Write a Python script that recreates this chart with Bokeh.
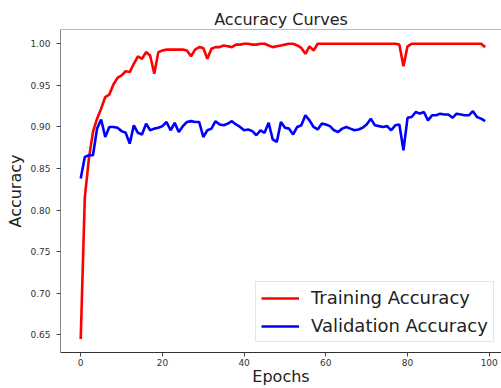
from bokeh.plotting import figure
from bokeh.models import Range1d, FixedTicker, NumeralTickFormatter, LinearAxis, Legend, LegendItem, ColumnDataSource
from bokeh.embed import file_html
from bokeh.resources import INLINE

epochs = list(range(100))

train_acc = [
    0.645, 0.815, 0.862, 0.894, 0.910, 0.922, 0.936, 0.939, 0.951, 0.959,
    0.962, 0.967, 0.966, 0.976, 0.985, 0.982, 0.990, 0.986, 0.964, 0.990,
    0.992, 0.993, 0.993, 0.993, 0.993, 0.993, 0.992, 0.985, 0.993, 0.996,
    0.995, 0.982, 0.994, 0.996, 0.996, 0.998, 0.997, 0.996, 0.999, 0.999,
    1.000, 1.000, 0.999, 0.999, 1.000, 1.000, 0.998, 0.996, 0.997, 0.998,
    0.999, 1.000, 1.000, 0.998, 0.995, 0.988, 0.997, 0.992, 1.000, 1.000,
    1.000, 1.000, 1.000, 1.000, 1.000, 1.000, 1.000, 1.000, 1.000, 1.000,
    1.000, 1.000, 1.000, 1.000, 1.000, 1.000, 1.000, 1.000, 0.999, 0.973,
    0.997, 1.000, 1.000, 1.000, 1.000, 1.000, 1.000, 1.000, 1.000, 1.000,
    1.000, 1.000, 1.000, 1.000, 1.000, 1.000, 1.000, 1.000, 1.000, 0.996,
]

val_acc = [
    0.838, 0.864, 0.866, 0.866, 0.898, 0.909, 0.888, 0.900, 0.900, 0.899,
    0.895, 0.893, 0.880, 0.902, 0.893, 0.891, 0.904, 0.896, 0.898, 0.899,
    0.901, 0.906, 0.896, 0.905, 0.894, 0.901, 0.906, 0.907, 0.906, 0.906,
    0.888, 0.896, 0.898, 0.907, 0.903, 0.902, 0.904, 0.907, 0.903, 0.900,
    0.896, 0.897, 0.895, 0.890, 0.896, 0.893, 0.905, 0.885, 0.882, 0.906,
    0.899, 0.898, 0.891, 0.900, 0.902, 0.914, 0.908, 0.900, 0.897, 0.904,
    0.903, 0.901, 0.896, 0.894, 0.898, 0.900, 0.898, 0.896, 0.897, 0.899,
    0.903, 0.910, 0.902, 0.901, 0.900, 0.901, 0.896, 0.902, 0.903, 0.872,
    0.911, 0.912, 0.918, 0.916, 0.918, 0.908, 0.914, 0.914, 0.916, 0.915,
    0.915, 0.911, 0.916, 0.915, 0.914, 0.914, 0.919, 0.912, 0.910, 0.907,
]

x_ticks = [0, 20, 40, 60, 80, 100]
y_ticks = [0.65, 0.70, 0.75, 0.80, 0.85, 0.90, 0.95, 1.00]

title_text = "Accuracy Curves"
x_label = "Epochs"
y_label = "Accuracy"
series_names = ["Training Accuracy", "Validation Accuracy"]
series_colors = ["#ff0000", "#0000ff"]

FONT = "DejaVu Sans"

src = ColumnDataSource(dict(epoch=epochs, train=train_acc, val=val_acc))

p = figure(width=501, height=388, output_backend="svg", toolbar_location=None,
           x_range=Range1d(-4.95, 103.0), y_range=Range1d(0.6288, 1.0172),
           min_border_left=60, min_border_right=0, min_border_top=29, min_border_bottom=35)

p.outline_line_color = None
p.grid.visible = False
p.background_fill_color = "white"
p.border_fill_color = "white"

p.title.text = title_text
p.title.align = "center"
p.title.text_font = FONT
p.title.text_font_size = "16px"
p.title.text_font_style = "normal"
p.title.text_color = "#222222"
p.title.standoff = 2

for ax in (p.xaxis[0], p.yaxis[0]):
    ax.major_label_text_font = FONT
    ax.major_label_text_font_size = "9px"
    ax.major_label_text_color = "#333333"
    ax.axis_label_text_font = FONT
    ax.axis_label_text_font_size = "16px"
    ax.axis_label_text_font_style = "normal"
    ax.axis_label_text_color = "#222222"
    ax.major_tick_in = 0
    ax.major_tick_out = 4
    ax.minor_tick_line_color = None
    ax.major_tick_line_color = "#444444"

p.xaxis.ticker = FixedTicker(ticks=x_ticks)
p.yaxis.ticker = FixedTicker(ticks=y_ticks)
p.yaxis.formatter = NumeralTickFormatter(format="0.00")
p.xaxis.axis_label = x_label
p.yaxis.axis_label = y_label
p.xaxis.axis_line_color = "#333333"
p.yaxis.axis_line_color = "#888888"
p.xaxis.major_label_standoff = 2
p.yaxis.major_label_standoff = 6
p.xaxis.axis_label_standoff = -2
p.yaxis.axis_label_standoff = 2

top = LinearAxis(ticker=FixedTicker(ticks=[]), axis_line_color="#bbbbbb",
                 major_tick_line_color=None, minor_tick_line_color=None,
                 major_label_text_font_size="0px")
p.add_layout(top, "above")

r1 = p.line("epoch", "train", source=src, line_color=series_colors[0], line_width=2.6)
r2 = p.line("epoch", "val", source=src, line_color=series_colors[1], line_width=2.6)

legend = Legend(items=[LegendItem(label=series_names[0], renderers=[r1]),
                       LegendItem(label=series_names[1], renderers=[r2])],
                location=(195, 10))
legend.label_text_font = FONT
legend.label_text_font_size = "18px"
legend.label_text_color = "#222222"
legend.glyph_width = 38
legend.glyph_height = 20
legend.label_height = 20
legend.label_standoff = 12
legend.spacing = 7
legend.padding = 5
legend.margin = 0
legend.border_line_color = "#cccccc"
legend.border_line_width = 1
legend.background_fill_alpha = 0.8
p.add_layout(legend, "center")

open("out.html", "w").write(file_html(p, INLINE))
